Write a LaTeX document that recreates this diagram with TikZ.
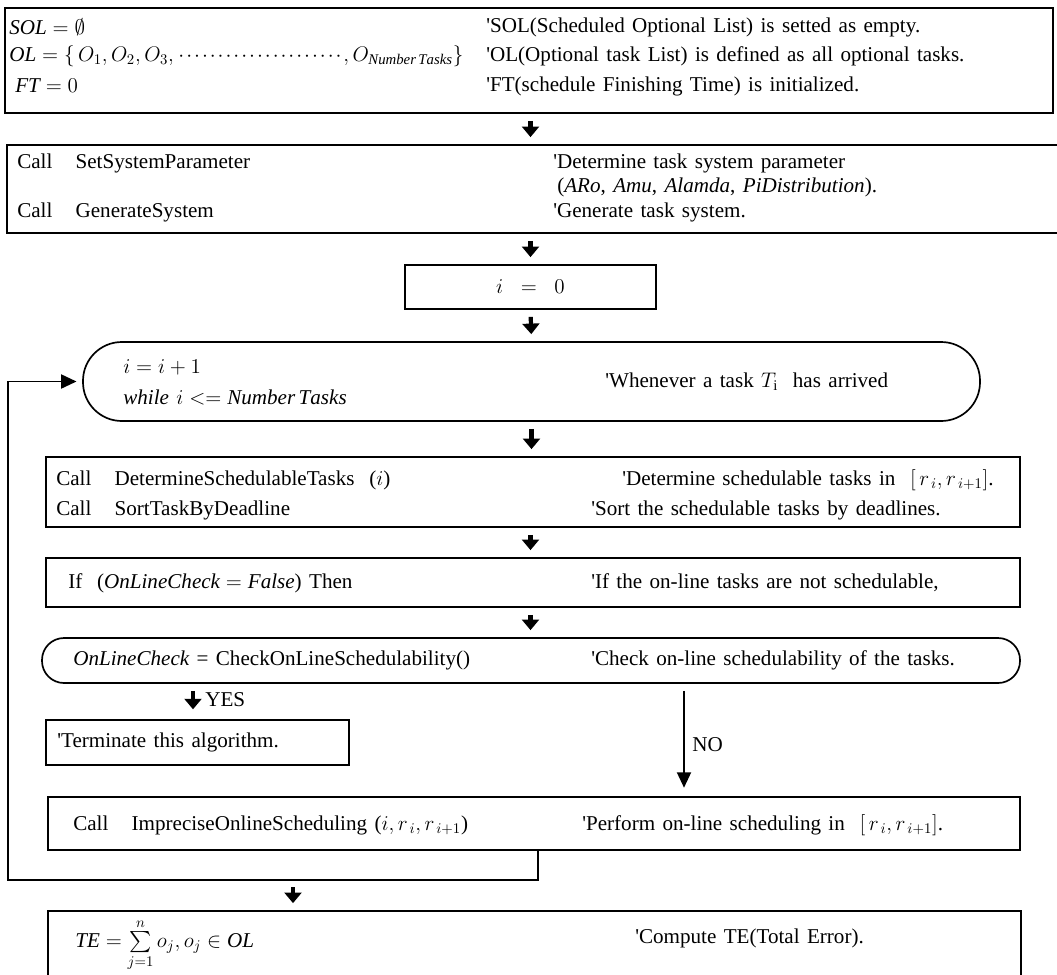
\RequirePackage{fix-cm}
\documentclass[tikz,border=0pt]{standalone}
\usepackage{amsmath,amssymb}
\usepackage{fontspec}
\setmainfont{Liberation Serif}[WordSpace=1.4]
\usetikzlibrary{fit,arrows.meta}

\newcommand{\cmt}{\textquotesingle}
\newcommand{\dotrow}{\hbox to 118pt{\leaders\hbox to 5.6pt{\hss$\cdot$\hss}\hfill}}

\begin{document}
\begin{tikzpicture}[
  x=0.025cm, y=-0.025cm,
  font=\fontsize{15}{18}\selectfont,
  box/.style={draw, line width=1.2pt, inner sep=0pt},
  txt/.style={anchor=west, inner sep=0pt},
  down/.style={line width=3pt, -{Triangle[width=12pt,length=7.5pt]}, shorten <=5pt, shorten >=5pt},
  arr/.style={line width=1.3pt, -{Triangle[width=10pt,length=11pt]}}
]
\useasboundingbox (0,0) rectangle (1057,974);
\clip (0,0) rectangle (1057,974);

\node[box, fit={(5,8) (1053,113)}] (init) {};
\node[box, fit={(7,145) (1070,233)}] (setup) {};
\node[box, fit={(405,265) (656,309)}] (zero) {};
\node[box, rounded corners=0.97cm, fit={(83,342) (980,421)}] (loop) {};
\node[box, fit={(46,457) (1020,527)}] (sched) {};
\node[box, fit={(46,558) (1020,607)}] (ifchk) {};
\node[box, rounded corners=0.55cm, fit={(42,638) (1020,683)}] (check) {};
\node[box, fit={(46,720) (349,765)}] (term) {};
\node[box, fit={(48,797) (1020,850)}] (online) {};
\node[box, fit={(48,911) (1021,990)}] (error) {};

\node[txt] (sol) at (9,27) {$\mathit{SOL} = \emptyset$};
\node[txt] (ol) at (9,56) {$\mathit{OL} = \{\, O_1, O_2, O_3, \dotrow, O_{\mathit{Number\,Tasks}} \}$};
\node[txt] (ft) at (15,86) {$\mathit{FT} = 0$};
\node[txt] (solc) at (486,27) {\cmt SOL(Scheduled Optional List) is setted as empty.};
\node[txt] (olc) at (486,56) {\cmt OL(Optional task List) is defined as all optional tasks.};
\node[txt] (ftc) at (486,86) {\cmt FT(schedule Finishing Time) is initialized.};

\node[txt] (callset) at (17,163) {Call\hspace{1.1em}SetSystemParameter};
\node[txt] (callgen) at (17,212) {Call\hspace{1.1em}GenerateSystem};
\node[txt] (setc) at (553,163) {\cmt Determine task system parameter};
\node[txt] (parc) at (557,187) {(\textit{ARo}, \textit{Amu}, \textit{Alamda}, \textit{PiDistribution}).};
\node[txt] (genc) at (553,212) {\cmt Generate task system.};

\node (zerot) at (zero) {$i \;\;=\;\; 0$};

\node[txt] (inc) at (123,367) {$i = i + 1$};
\node[txt] (whl) at (123,397) {$\mathit{while}\ i <= \mathit{Number\,Tasks}$};
\node[txt] (whc) at (605,382) {\cmt Whenever a task $T_{\mathrm{i}}$\ \ has arrived};

\node[txt] (calldet) at (56,480) {Call\hspace{1.1em}DetermineSchedulableTasks\ \ ($i$)};
\node[txt] (callsort) at (56,510) {Call\hspace{1.1em}SortTaskByDeadline};
\node[txt] (detc) at (622,480) {\cmt Determine schedulable tasks in\ \ $[\,r_{\,i}, r_{\,i+1}]$.};
\node[txt] (sortc) at (591,510) {\cmt Sort the schedulable tasks by deadlines.};

\node[txt] (ifl) at (68,583) {If\ \ ($\mathit{OnLineCheck} = \mathit{False}$) Then};
\node[txt] (ifc) at (591,583) {\cmt If the on-line tasks are not schedulable,};

\node[txt] (chkl) at (73,660) {$\mathit{OnLineCheck}$ = CheckOnLineSchedulability()};
\node[txt] (chkc) at (591,660) {\cmt Check on-line schedulability of the tasks.};

\node[txt] (yes) at (205,700) {YES};
\node[txt] (termt) at (57,742) {\cmt Terminate this algorithm.};
\node[txt] (no) at (692,745) {NO};

\node[txt] (callimp) at (73,825) {Call\hspace{1.1em}ImpreciseOnlineScheduling\ ($i, r_{\,i}, r_{\,i+1}$)};
\node[txt] (impc) at (582,825) {\cmt Perform on-line scheduling in\ \ $[\,r_{\,i}, r_{\,i+1}]$.};

\node[txt] (tel) at (75,945) {$\mathit{TE} = \sum\limits_{j=1}^{n} o_j, o_j \in \mathit{OL}$};
\node[txt] (tec) at (635,938) {\cmt Compute TE(Total Error).};

\coordinate (yesx) at (193,0);
\coordinate (nox) at (684,0);
\coordinate (retx) at (538,0);
\coordinate (ret) at (8,880);
\coordinate (errx) at (293,0);

\draw[down] (init.south -| zero) -- (setup.north -| zero);
\draw[down] (setup.south -| zero) -- (zero.north);
\draw[down] (zero.south) -- (loop.north);
\draw[down] (loop.south) -- (loop.south |- sched.north);
\draw[down] (sched.south -| zero) -- (ifchk.north -| zero);
\draw[down] (ifchk.south -| zero) -- (check.north -| zero);
\draw[down, shorten >=7pt] (check.south -| yesx) -- (term.north -| yesx);
\draw[arr, shorten <=5pt, shorten >=6pt] (check.south -| nox) -- (online.north -| nox);
\draw[arr, shorten >=4pt] (online.south -| retx) |- (ret) |- (loop.west);
\draw[down] (ret -| errx) -- (error.north -| errx);
\end{tikzpicture}
\end{document}
